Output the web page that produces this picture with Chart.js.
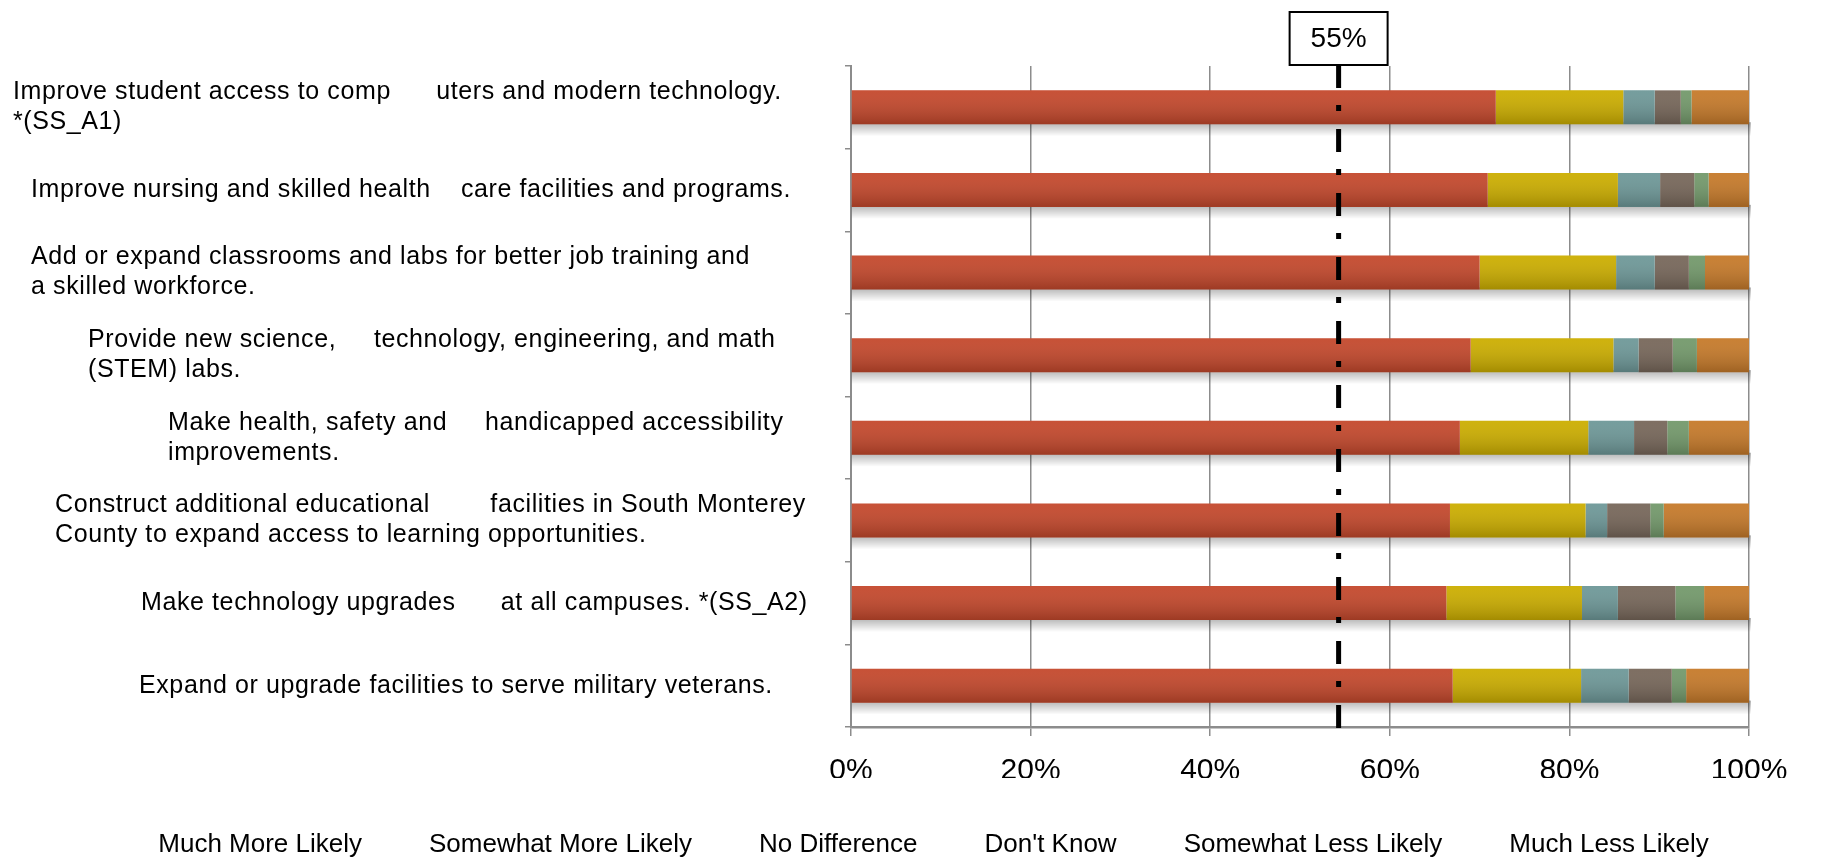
<!DOCTYPE html>
<html>
<head>
<meta charset="utf-8">
<script src="https://cdn.jsdelivr.net/npm/chart.js@4.4.0/dist/chart.umd.min.js"></script>
<style>
    html, body { margin: 0; padding: 0; background: #fff; }
    #wrap { width: 1824px; height: 858px; }
</style>
</head>
<body>
<div id="wrap"><canvas id="likelyChart" width="1824" height="858"></canvas></div>
<script>
// Projects (top to bottom), gaps kept as they appear in the source
const projects = [
    ['Improve student access to comp      uters and modern technology.', '*(SS_A1)'],
    ['Improve nursing and skilled health    care facilities and programs.'],
    ['Add or expand classrooms and labs for better job training and', 'a skilled workforce.'],
    ['Provide new science,     technology, engineering, and math', '(STEM) labs.'],
    ['Make health, safety and     handicapped accessibility', 'improvements.'],
    ['Construct additional educational        facilities in South Monterey', 'County to expand access to learning opportunities.'],
    ['Make technology upgrades      at all campuses. *(SS_A2)'],
    ['Expand or upgrade facilities to serve military veterans.']
];

const muchMore     = [71.8, 70.9, 70.0, 69.0, 67.8, 66.7, 66.3, 67.0];
const somewhatMore = [14.2, 14.5, 15.2, 15.9, 14.3, 15.1, 15.1, 14.3];
const noDifference = [3.5, 4.7, 4.3, 2.8, 5.1, 2.4, 4.0, 5.3];
const dontKnow     = [2.9, 3.8, 3.8, 3.8, 3.7, 4.8, 6.4, 4.8];
const somewhatLess = [1.2, 1.6, 1.8, 2.7, 2.4, 1.5, 3.2, 1.6];
const muchLess     = [6.4, 4.5, 4.9, 5.8, 6.7, 9.5, 5.0, 7.0];

const seriesNames = ['Much More Likely', 'Somewhat More Likely', 'No Difference', "Don't Know", 'Somewhat Less Likely', 'Much Less Likely'];
const xTicks = [0, 20, 40, 60, 80, 100];

// threshold marker
const targetValue = 54.3;
const targetLabel = '55%';

const FONT = '"Liberation Sans", Arial, sans-serif';
const colors = ['#C4482C', '#CCAE00', '#6E9898', '#77675A', '#73996B', '#C67A2A'];
const labelIndent = [13, 31, 31, 88, 168, 55, 141, 139];

const seriesData = [muchMore, somewhatMore, noDifference, dontKnow, somewhatLess, muchLess];

// soft shadow under each full bar
const barShadow = {
    id: 'barShadow',
    beforeDatasetsDraw(chart) {
        const ctx = chart.ctx;
        const first = chart.getDatasetMeta(0).data;
        const last = chart.getDatasetMeta(chart.data.datasets.length - 1).data;
        ctx.save();
        first.forEach((el, i) => {
            const a = el.getProps(['y', 'base', 'height'], true);
            const b = last[i].getProps(['x'], true);
            const bottom = a.y + a.height / 2;
            const g = ctx.createLinearGradient(0, bottom - 2, 0, bottom + 12);
            g.addColorStop(0, 'rgba(0,0,0,0.30)');
            g.addColorStop(1, 'rgba(0,0,0,0)');
            ctx.fillStyle = g;
            ctx.fillRect(a.base, bottom - 2, b.x - a.base + 2, 14);
        });
        ctx.restore();
    },
    afterDatasetsDraw(chart) {
        // light-to-dark shading on each segment
        const ctx = chart.ctx;
        ctx.save();
        chart.data.datasets.forEach((ds, d) => {
            chart.getDatasetMeta(d).data.forEach(el => {
                const p = el.getProps(['x', 'y', 'base', 'height'], true);
                const top = p.y - p.height / 2;
                const g = ctx.createLinearGradient(0, top, 0, top + p.height);
                g.addColorStop(0, 'rgba(255,255,255,0.05)');
                g.addColorStop(1, 'rgba(0,0,0,0.20)');
                ctx.fillStyle = g;
                ctx.fillRect(Math.min(p.base, p.x), top, Math.abs(p.x - p.base), p.height);
            });
        });
        ctx.restore();
    }
};

// dash-dot marker line with boxed label
const targetLine = {
    id: 'targetLine',
    afterDatasetsDraw(chart) {
        const ctx = chart.ctx;
        const x = chart.scales.x.getPixelForValue(targetValue);
        ctx.save();
        ctx.strokeStyle = '#000';
        ctx.lineWidth = 5;
        ctx.setLineDash([23, 17, 6, 18]);
        ctx.beginPath();
        ctx.moveTo(x, 65);
        ctx.lineTo(x, chart.chartArea.bottom + 8);
        ctx.stroke();
        ctx.setLineDash([]);
        ctx.fillStyle = '#fff';
        ctx.lineWidth = 2;
        ctx.fillRect(x - 49, 12, 98, 53);
        ctx.strokeRect(x - 49, 12, 98, 53);
        ctx.fillStyle = '#000';
        ctx.font = '28px ' + FONT;
        ctx.textAlign = 'center';
        ctx.textBaseline = 'middle';
        ctx.fillText(targetLabel, x, 39);
        ctx.restore();
    }
};

// category labels, left aligned blocks
const projectLabels = {
    id: 'projectLabels',
    afterDraw(chart) {
        const ctx = chart.ctx;
        const yScale = chart.scales.y;
        ctx.save();
        ctx.fillStyle = '#000';
        ctx.font = '25px ' + FONT;
        ctx.letterSpacing = '0.6px';
        ctx.textAlign = 'left';
        ctx.textBaseline = 'middle';
        projects.forEach((lines, i) => {
            const cy = yScale.getPixelForValue(i);
            lines.forEach((t, j) => {
                ctx.fillText(t, labelIndent[i], cy + (j - (lines.length - 1) / 2) * 30);
            });
        });
        ctx.restore();
    }
};

// keep the legend on one row, fixed height, spread over the canvas width
const legendFit = {
    id: 'legendFit',
    afterInit(chart) {
        const legend = chart.legend;
        const fit = legend.fit;
        legend.fit = function() {
            this.maxWidth = chart.width;
            fit.call(this);
            this.height = 80;
        };
        const draw = legend.draw;
        legend.draw = function() {
            const l = this.left, r = this.right;
            this.left = 30;
            this.right = chart.width;
            draw.call(this);
            this.left = l;
            this.right = r;
        };
    }
};

const ctx = document.getElementById('likelyChart').getContext('2d');
const likelyChart = new Chart(ctx, {
    type: 'bar',
    data: {
        labels: projects,
        datasets: seriesNames.map((name, i) => ({
            label: name,
            data: seriesData[i],
            backgroundColor: colors[i],
            borderWidth: 0,
            barPercentage: 0.41,
            categoryPercentage: 1
        }))
    },
    options: {
        indexAxis: 'y',
        responsive: false,
        animation: false,
        layout: { padding: { left: 105, right: 75, top: 66, bottom: 0 } },
        scales: {
            x: {
                stacked: true,
                min: 0,
                max: 100,
                afterBuildTicks: s => { s.ticks = xTicks.map(v => ({ value: v })); },
                ticks: {
                    callback: v => v + '%',
                    color: '#000',
                    font: { size: 30, family: FONT },
                    padding: 17,
                    maxRotation: 0
                },
                grid: { color: '#8c8c8c', lineWidth: 1.5, tickLength: 9 },
                border: { color: '#8c8c8c', width: 2.5 },
                afterFit: s => { s.height = 51; }
            },
            y: {
                stacked: true,
                ticks: { display: false },
                grid: { drawOnChartArea: false, tickLength: 6, color: '#8c8c8c', lineWidth: 1.5 },
                border: { color: '#8c8c8c', width: 2 },
                afterFit: s => { s.width = 746; }
            }
        },
        plugins: {
            legend: {
                position: 'bottom',
                labels: {
                    color: '#000',
                    font: { size: 26, family: FONT },
                    boxWidth: 0.001,
                    boxHeight: 0.001,
                    padding: 54,
                    generateLabels: chart => Chart.defaults.plugins.legend.labels.generateLabels(chart).map(l => ({
                        ...l, fillStyle: 'rgba(0,0,0,0)', strokeStyle: 'rgba(0,0,0,0)', lineWidth: 0
                    }))
                }
            },
            tooltip: { enabled: false }
        }
    },
    plugins: [legendFit, barShadow, targetLine, projectLabels]
});
</script>
</body>
</html>
